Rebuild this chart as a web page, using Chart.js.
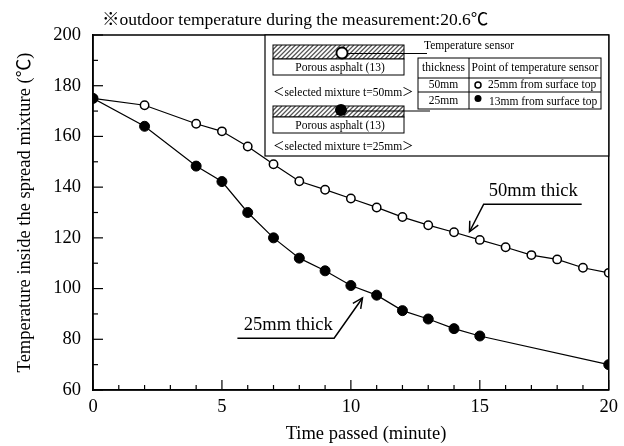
<!DOCTYPE html>
<html>
<head>
<meta charset="utf-8">
<script src="https://cdn.jsdelivr.net/npm/chart.js@4/dist/chart.umd.min.js"></script>
<style>
html,body{margin:0;padding:0;background:#fff;}
#wrap{width:624px;height:446px;position:relative;}
</style>
</head>
<body>
<div id="wrap"><canvas id="c" width="624" height="446"></canvas></div>
<script>
// ---- data ----
const times50 = [0, 2, 4, 5, 6, 7, 8, 9, 10, 11, 12, 13, 14, 15, 16, 17, 18, 19, 20];
const temp50  = [175, 172.3, 165, 162, 156, 149, 142.3, 139, 135.5, 132, 128.2, 125, 122.2, 119.2, 116.3, 113.2, 111.5, 108.2, 106.2];
const times25 = [0, 2, 4, 5, 6, 7, 8, 9, 10, 11, 12, 13, 14, 15, 20];
const temp25  = [175, 164, 148.3, 142.2, 130, 120, 112, 107, 101.2, 97.4, 91.3, 88, 84.2, 81.3, 70];
const xTicks = [0, 5, 10, 15, 20];
const yTicks = [60, 80, 100, 120, 140, 160, 180, 200];
const titleText = "※outdoor temperature during the measurement:20.6℃";
const xTitle = "Time passed (minute)";
const yTitle = "Temperature inside the spread mixture (℃)";
const label50 = "50mm thick";
const label25 = "25mm thick";

const SERIF = "'Liberation Serif', 'Times New Roman', 'Noto Sans CJK JP', serif";
const SERIF_CJK = "'Liberation Serif', 'Noto Sans CJK JP', serif";

function toXY(xs, ys){ return xs.map((x,i)=>({x:x, y:ys[i]})); }

function arrowHead(ctx, x0, y0, x1, y1, len){
  const a = Math.atan2(y1-y0, x1-x0);
  ctx.beginPath();
  ctx.moveTo(x1 - len*Math.cos(a-0.45), y1 - len*Math.sin(a-0.45));
  ctx.lineTo(x1, y1);
  ctx.lineTo(x1 - len*Math.cos(a+0.45), y1 - len*Math.sin(a+0.45));
  ctx.stroke();
}

function hatchRect(ctx, x, y, w, h){
  ctx.save();
  ctx.fillStyle = '#fff';
  ctx.fillRect(x, y, w, h);
  ctx.beginPath(); ctx.rect(x, y, w, h); ctx.clip();
  ctx.strokeStyle = '#555'; ctx.lineWidth = 1.3;
  for (let i = -h; i < w + h; i += 4.5){
    ctx.beginPath(); ctx.moveTo(x + i, y + h); ctx.lineTo(x + i + h, y); ctx.stroke();
  }
  ctx.restore();
  ctx.strokeStyle = '#000'; ctx.lineWidth = 1;
  ctx.strokeRect(x, y, w, h);
}

const decor = {
  id: 'decor',
  afterDraw(chart){
    const ctx = chart.ctx;
    const {left, right, top, bottom} = chart.chartArea;
    const sx = chart.scales.x, sy = chart.scales.y;
    ctx.save();
    ctx.strokeStyle = '#000';
    ctx.lineWidth = 1.5;
    ctx.strokeRect(left, top, right-left, bottom-top);
    // inward ticks
    ctx.lineWidth = 1.2;
    for (let t = 0; t <= 20; t++){
      const px = sx.getPixelForValue(t);
      const len = (t % 5 === 0) ? 10 : 5;
      ctx.beginPath(); ctx.moveTo(px, bottom); ctx.lineTo(px, bottom - len); ctx.stroke();
    }
    for (let v = 60; v <= 200; v += 10){
      const py = sy.getPixelForValue(v);
      const len = (v % 20 === 0) ? 10 : 5;
      ctx.beginPath(); ctx.moveTo(left, py); ctx.lineTo(left + len, py); ctx.stroke();
    }
    // title
    ctx.fillStyle = '#000';
    ctx.font = "17.5px " + SERIF_CJK;
    ctx.textAlign = 'left'; ctx.textBaseline = 'middle';
    ctx.fillText(titleText, 102, 20);
    // x-axis title
    ctx.font = "18.5px " + SERIF;
    ctx.textAlign = 'center';
    ctx.fillText(xTitle, 366, 434);

    // legend box
    ctx.fillStyle = '#fff';
    ctx.fillRect(265, top, right-265, 156-top);
    ctx.lineWidth = 1.2; ctx.strokeStyle = '#000';
    ctx.strokeRect(265, top, right-265, 156-top);

    ctx.font = "11.5px " + SERIF_CJK;
    ctx.fillStyle = '#000';
    // upper sample
    hatchRect(ctx, 273, 45, 131, 14);
    ctx.fillStyle='#fff'; ctx.fillRect(273,59,131,16); ctx.strokeRect(273,59,131,16);
    ctx.fillStyle = '#000'; ctx.textAlign='center';
    ctx.fillText("Porous asphalt (13)", 340, 67.5);
    ctx.beginPath(); ctx.moveTo(347, 53.5); ctx.lineTo(427, 53.5); ctx.stroke();
    ctx.beginPath(); ctx.arc(342, 53, 5.5, 0, Math.PI*2); ctx.fillStyle='#fff'; ctx.fill(); ctx.lineWidth=1.8; ctx.stroke();
    ctx.lineWidth = 1;
    ctx.fillStyle = '#000'; ctx.textAlign='left';
    ctx.fillText("Temperature sensor", 424, 46);
    ctx.fillText("＜selected mixture t=50mm＞", 273, 93);
    // lower sample
    hatchRect(ctx, 273, 106, 131, 11);
    ctx.fillStyle='#fff'; ctx.fillRect(273,117,131,16); ctx.strokeRect(273,117,131,16);
    ctx.fillStyle = '#000'; ctx.textAlign='center';
    ctx.fillText("Porous asphalt (13)", 340, 125.5);
    ctx.beginPath(); ctx.moveTo(345, 111); ctx.lineTo(430, 111); ctx.stroke();
    ctx.beginPath(); ctx.arc(341, 110, 6, 0, Math.PI*2); ctx.fillStyle='#000'; ctx.fill();
    ctx.textAlign='left';
    ctx.fillText("＜selected mixture t=25mm＞", 273, 147);
    // table
    ctx.strokeStyle='#000'; ctx.lineWidth=1;
    ctx.strokeRect(418, 58, 183, 51);
    [78, 92].forEach(yy=>{ ctx.beginPath(); ctx.moveTo(418, yy); ctx.lineTo(601, yy); ctx.stroke(); });
    ctx.beginPath(); ctx.moveTo(469, 58); ctx.lineTo(469, 109); ctx.stroke();
    ctx.textAlign='center';
    ctx.fillText("thickness", 443.5, 68);
    ctx.fillText("Point of temperature sensor", 535, 68);
    ctx.fillText("50mm", 443.5, 85);
    ctx.fillText("25mm", 443.5, 100.5);
    ctx.textAlign='left';
    ctx.beginPath(); ctx.arc(478, 85, 3, 0, Math.PI*2); ctx.lineWidth=1.5; ctx.stroke();
    ctx.fillText("25mm from surface top", 488, 85);
    ctx.beginPath(); ctx.arc(478, 98.5, 3.5, 0, Math.PI*2); ctx.fill();
    ctx.fillText("13mm from surface top", 489, 102);

    // annotations
    ctx.lineWidth = 1.5; ctx.strokeStyle='#000';
    ctx.font = "18.5px " + SERIF;
    ctx.textAlign='left'; ctx.textBaseline='middle';
    // 50mm
    const a1 = {x: sx.getPixelForValue(18.95), y: sy.getPixelForValue(133.3)};
    const a2 = {x: sx.getPixelForValue(15.15), y: sy.getPixelForValue(133.3)};
    const a3 = {x: sx.getPixelForValue(14.6), y: sy.getPixelForValue(122.4)};
    ctx.beginPath(); ctx.moveTo(a1.x, a1.y); ctx.lineTo(a2.x, a2.y); ctx.lineTo(a3.x, a3.y); ctx.stroke();
    arrowHead(ctx, a2.x, a2.y, a3.x, a3.y, 11);
    ctx.fillText(label50, sx.getPixelForValue(15.35), sy.getPixelForValue(138.6));
    // 25mm
    const b1 = {x: sx.getPixelForValue(5.6), y: sy.getPixelForValue(80.4)};
    const b2 = {x: sx.getPixelForValue(9.35), y: sy.getPixelForValue(80.4)};
    const b3 = {x: sx.getPixelForValue(10.45), y: sy.getPixelForValue(96.3)};
    ctx.beginPath(); ctx.moveTo(b1.x, b1.y); ctx.lineTo(b2.x, b2.y); ctx.lineTo(b3.x, b3.y); ctx.stroke();
    arrowHead(ctx, b2.x, b2.y, b3.x, b3.y, 11);
    ctx.fillText(label25, sx.getPixelForValue(5.85), sy.getPixelForValue(85.6));
    ctx.restore();
  }
};

new Chart(document.getElementById('c'), {
  type: 'scatter',
  data: {
    datasets: [
      { label: '25mm', data: toXY(times25, temp25), showLine: true, order: 0,
        borderColor: '#000', borderWidth: 1.2, backgroundColor: '#000',
        pointRadius: 5, pointBorderWidth: 1, pointBorderColor: '#000', pointBackgroundColor: '#000' },
      { label: '50mm', data: toXY(times50, temp50), showLine: true, order: 1,
        borderColor: '#000', borderWidth: 1.2, backgroundColor: '#fff',
        pointRadius: 4.2, pointBorderWidth: 1.5, pointBorderColor: '#000', pointBackgroundColor: '#fff' }
    ]
  },
  options: {
    responsive: false, animation: false, devicePixelRatio: 1,
    layout: { padding: { top: 35, right: 13, left: 0, bottom: 0 } },
    plugins: { legend: { display: false }, tooltip: { enabled: false }, title: { display: false } },
    scales: {
      x: {
        type: 'linear', min: 0, max: 20,
        afterBuildTicks: s => { s.ticks = xTicks.map(v => ({value: v})); },
        afterFit: s => { s.height = 56; },
        grid: { display: false, drawTicks: false },
        border: { display: true, color: '#000', width: 1.5 },
        ticks: { color: '#000', padding: 6, maxRotation: 0, font: { family: SERIF, size: 18.5 } },
        title: { display: false }
      },
      y: {
        type: 'linear', min: 60, max: 200,
        afterBuildTicks: s => { s.ticks = yTicks.map(v => ({value: v})); },
        afterFit: s => { s.width = 93; },
        grid: { display: false, drawTicks: false },
        border: { display: true, color: '#000', width: 1.5 },
        ticks: { color: '#000', padding: 12, font: { family: SERIF, size: 18.5 } },
        title: { display: true, text: yTitle, color: '#000', padding: { top: 14, bottom: 0 }, font: { family: SERIF_CJK, size: 18.5 } }
      }
    }
  },
  plugins: [decor]
});
</script>
</body>
</html>
